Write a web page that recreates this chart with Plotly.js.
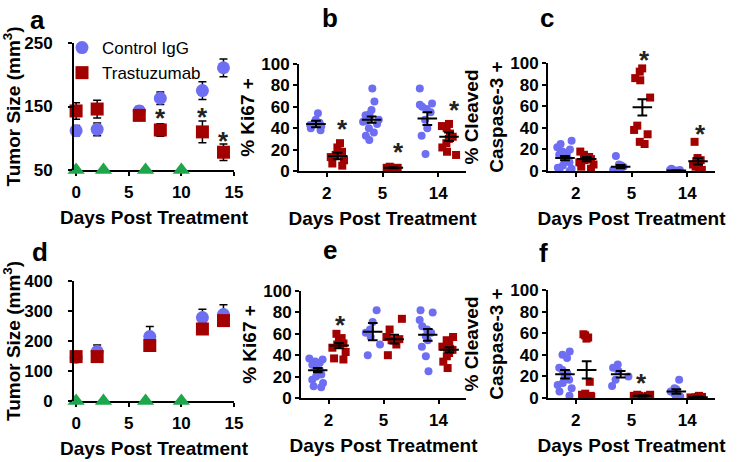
<!DOCTYPE html>
<html>
<head>
<meta charset="utf-8">
<script src="https://cdn.plot.ly/plotly-3.0.1.min.js"></script>
<style>
  html, body { margin: 0; padding: 0; background: white; }
  #chart { width: 737px; height: 462px; }
</style>
</head>
<body>
<div id="chart"></div>
<script>
// ---- data ----
// a: tumour growth, HER2 high
const daysA = [0, 2, 6, 8, 12, 14];
const ctrlA = [112, 114, 143, 163, 175, 211];
const ctrlAErr = [8, 10, 7, 10, 14, 14];
const trasA = [143, 146, 136, 113, 110, 78];
const trasAErr = [13, 14, 6, 10, 17, 13];
const starDaysA = [8, 12, 14];
const starYA = [142, 143, 105];

// d: tumour growth, second model
const daysD = [0, 2, 7, 12, 14];
const ctrlD = [145, 165, 215, 278, 288];
const ctrlDErr = [5, 22, 33, 28, 33];
const trasD = [148, 148, 185, 240, 268];
const trasDErr = [8, 10, 10, 12, 14];

const doseDays = [0, 2.6, 6.6, 10];
const timepoints = ['2', '5', '14'];

// b: % Ki67+ (per timepoint)
const ki67CtrlB = [[54, 48, 45, 44, 42, 40, 38, 43],
                   [77, 65, 57, 53, 50, 48, 46, 44, 40, 36, 33, 29, 52, 47],
                   [77, 63, 60, 58, 55, 48, 40, 33, 16, 62]];
const ki67TrasB = [[26, 22, 18, 15, 13, 10, 7, 5],
                   [2, 3, 3, 2, 4, 3, 2],
                   [44, 42, 40, 35, 32, 30, 26, 22, 18, 15]];
const ki67CtrlBMean = [44, 48, 49], ki67CtrlBSem = [3, 3, 6];
const ki67TrasBMean = [14, 3, 32], ki67TrasBSem = [3, 0.5, 4];
const starCatB = ['2', '5', '14'], starYB = [45, 23, 63];

// c: % cleaved caspase-3+
const casCtrlC = [[28, 25, 22, 20, 18, 15, 12, 10, 8, 5, 3, 1, 0, 2, 14, 17],
                  [14, 6, 4, 3, 2, 1, 5, 0],
                  [1, 0.5, 0, 0, 1, 2, 0.5, 0]];
const casTrasC = [[18, 15, 13, 12, 10, 8, 6, 4, 2, 11],
                  [95, 92, 86, 84, 68, 42, 38, 34, 27, 25],
                  [27, 12, 10, 8, 6, 4, 2, 1, 9]];
const casCtrlCMean = [12, 4, 0.5], casCtrlCSem = [2, 1.5, 0.3];
const casTrasCMean = [11, 59, 9], casTrasCSem = [2, 7.5, 3];
const starCatC = ['5', '14'], starYC = [108, 40];

// e: % Ki67+
const ki67CtrlE = [[37, 36, 34, 33, 30, 26, 25, 22, 17, 14, 11, 10, 20, 31],
                   [82, 71, 64, 57, 50, 40, 61],
                   [82, 80, 73, 67, 64, 61, 54, 48, 39, 25, 58]];
const ki67TrasE = [[60, 56, 54, 51, 50, 47, 43, 37, 36],
                   [74, 64, 57, 54, 50, 40, 55],
                   [57, 54, 51, 48, 47, 45, 42, 39, 34, 28, 46]];
const ki67CtrlEMean = [26, 62, 59], ki67CtrlESem = [2, 8, 5.5];
const ki67TrasEMean = [49, 55, 45], ki67TrasESem = [2.5, 4, 2.5];
const starCatE = ['2'], starYE = [74];

// f: % cleaved caspase-3+
const casCtrlF = [[43, 40, 37, 28, 26, 20, 17, 12, 9, 6, 2, 14, 23],
                  [31, 28, 25, 20, 17, 11],
                  [17, 9, 6, 3, 1.5, 1, 4, 8]];
const casTrasF = [[59, 58, 56, 55, 15, 4, 3, 2, 2, 1],
                  [3, 2, 2, 1, 3, 2],
                  [1, 0.5, 0, 1, 2, 0.5]];
const casCtrlFMean = [22, 22, 6], casCtrlFSem = [4, 3, 2];
const casTrasFMean = [26, 2, 0.8], casTrasFSem = [8, 0.5, 0.3];
const starCatF = ['5'], starYF = [19];

// ---- styling ----
const W = 737, H = 462;
const FONT = 'Liberation Sans, Arial, sans-serif';
const BLUE = '#6e6ef2';
const RED = '#a30000';
const GREEN = '#1ea64c';

// panel boxes in pixels: [left, right, top, bottom]
const boxes = {
    a: [74, 234, 43, 170], b: [299, 466, 64, 171], c: [548, 715, 63, 171],
    d: [74, 234, 281, 401], e: [301, 466, 291, 398], f: [548, 715, 290, 398]
};
const xd = p => [boxes[p][0] / W, boxes[p][1] / W];
const yd = p => [1 - boxes[p][3] / H, 1 - boxes[p][2] / H];

const tickFont = { family: FONT, size: 17, color: 'black', weight: 'bold' };
const titleFont = { family: FONT, size: 19, color: 'black', weight: 'bold' };
const starFont = { family: FONT, size: 26, color: '#222', weight: 'bold' };

function axis(extra) {
    return Object.assign({
        showline: true, linecolor: 'black', linewidth: 2,
        ticks: 'outside', ticklen: 4, tickwidth: 2, tickcolor: 'black',
        showgrid: false, zeroline: false, fixedrange: true,
        tickfont: tickFont
    }, extra);
}

const traces = [];
const annotations = [];

// growth curves
function growthPanel(xa, ya, days, ctrl, ctrlErr, tras, trasErr, base, legend) {
    traces.push({
        x: days, y: ctrl, xaxis: xa, yaxis: ya, type: 'scatter', mode: 'markers',
        name: 'Control IgG', showlegend: legend, cliponaxis: false,
        marker: { color: BLUE, size: 13, symbol: 'circle' },
        error_y: { type: 'data', array: ctrlErr, color: 'black', thickness: 1.5, width: 4 },
        hoverinfo: 'skip'
    });
    traces.push({
        x: days, y: tras, xaxis: xa, yaxis: ya, type: 'scatter', mode: 'markers',
        name: 'Trastuzumab', showlegend: legend, cliponaxis: false,
        marker: { color: RED, size: 13, symbol: 'square' },
        error_y: { type: 'data', array: trasErr, color: 'black', thickness: 1.5, width: 4 },
        hoverinfo: 'skip'
    });
    traces.push({
        x: doseDays, y: doseDays.map(() => base), xaxis: xa, yaxis: ya,
        type: 'scatter', mode: 'markers', showlegend: false, cliponaxis: false,
        marker: { color: GREEN, size: 15, symbol: 'triangle-up' },
        hoverinfo: 'skip'
    });
}

growthPanel('x', 'y', daysA, ctrlA, ctrlAErr, trasA, trasAErr, 50, true);
growthPanel('x4', 'y4', daysD, ctrlD, ctrlDErr, trasD, trasDErr, 0, false);

// dot plots with mean +/- SEM
function dotGroup(xa, ya, groups, color, symbol, mean, sem, og) {
    const xs = [], ys = [];
    groups.forEach((vals, i) => vals.forEach(v => { xs.push(timepoints[i]); ys.push(v); }));
    traces.push({
        type: 'box', x: xs, y: ys, xaxis: xa, yaxis: ya,
        boxpoints: 'all', jitter: 0.9, pointpos: 0,
        fillcolor: 'rgba(0,0,0,0)', line: { color: 'rgba(0,0,0,0)', width: 0 },
        marker: { color: color, size: 8, symbol: symbol },
        offsetgroup: og, alignmentgroup: xa, showlegend: false, hoverinfo: 'skip'
    });
    traces.push({
        type: 'box', x: timepoints, xaxis: xa, yaxis: ya,
        q1: mean, median: mean, q3: mean,
        lowerfence: mean.map((m, i) => m - sem[i]),
        upperfence: mean.map((m, i) => m + sem[i]),
        fillcolor: 'rgba(0,0,0,0)', line: { color: 'black', width: 2 },
        whiskerwidth: 0.5, boxpoints: false,
        offsetgroup: og, alignmentgroup: xa, showlegend: false, hoverinfo: 'skip'
    });
}

function dotPanel(xa, ya, ctrl, ctrlMean, ctrlSem, tras, trasMean, trasSem) {
    dotGroup(xa, ya, ctrl, BLUE, 'circle', ctrlMean, ctrlSem, 'ctrl');
    dotGroup(xa, ya, tras, RED, 'square', trasMean, trasSem, 'tras');
}

dotPanel('x2', 'y2', ki67CtrlB, ki67CtrlBMean, ki67CtrlBSem, ki67TrasB, ki67TrasBMean, ki67TrasBSem);
dotPanel('x3', 'y3', casCtrlC, casCtrlCMean, casCtrlCSem, casTrasC, casTrasCMean, casTrasCSem);
dotPanel('x5', 'y5', ki67CtrlE, ki67CtrlEMean, ki67CtrlESem, ki67TrasE, ki67TrasEMean, ki67TrasESem);
dotPanel('x6', 'y6', casCtrlF, casCtrlFMean, casCtrlFSem, casTrasF, casTrasFMean, casTrasFSem);

// asterisks; category axes take the category index, and a star above the
// axis top is pinned to the top and lifted by the missing distance
function stars(panel, xa, ya, yRange, xs, ys, shift) {
    const pxPerUnit = (boxes[panel][3] - boxes[panel][2]) / (yRange[1] - yRange[0]);
    xs.forEach((x, i) => {
        const over = Math.max(0, ys[i] - yRange[1]);
        annotations.push({
            x: typeof x === 'string' ? timepoints.indexOf(x) : x, y: ys[i] - over,
            xref: xa, yref: ya, text: '*', showarrow: false,
            xanchor: 'center', yanchor: 'middle', xshift: shift, yshift: -6 + over * pxPerUnit,
            font: starFont
        });
    });
}
const pctRange = [0, 100];
stars('a', 'x', 'y', [50, 250], starDaysA, starYA, 0);
stars('b', 'x2', 'y2', pctRange, starCatB, starYB, 16);
stars('c', 'x3', 'y3', pctRange, starCatC, starYC, 13);
stars('e', 'x5', 'y5', pctRange, starCatE, starYE, 12);
stars('f', 'x6', 'y6', pctRange, starCatF, starYF, 10);

// panel letters
[['a', 37, 20], ['b', 330, 18], ['c', 547, 18], ['d', 40, 252], ['e', 330, 250], ['f', 543, 253]]
    .forEach(([t, px, py]) => annotations.push({
        x: px / W, y: 1 - py / H, xref: 'paper', yref: 'paper', text: t, showarrow: false,
        xanchor: 'center', yanchor: 'middle',
        font: { family: FONT, size: 26, color: 'black', weight: 'bold' }
    }));

const daysTitle = { text: 'Days Post Treatment', font: titleFont, standoff: 9 };
const catX = { type: 'category', range: [-0.5, 2.5], ticklen: 4, ticklabelstandoff: 2, title: daysTitle };
const timeX = { range: [-0.2, 15], tickvals: [0, 5, 10, 15], ticklabelstandoff: 2,
    layer: 'below traces', title: daysTitle };

function yTitle(text) { return { text: text, font: titleFont, standoff: 2 }; }

const layout = {
    width: W, height: H,
    margin: { l: 0, r: 0, t: 0, b: 0 },
    paper_bgcolor: 'white', plot_bgcolor: 'white',
    font: { family: FONT, color: 'black' },
    boxmode: 'group', boxgap: 0.22, boxgroupgap: 0.1,
    showlegend: true,
    legend: {
        x: 62 / W, y: 1 - 30 / H, xanchor: 'left', yanchor: 'top',
        bgcolor: 'rgba(0,0,0,0)', font: { family: FONT, size: 17, color: 'black' },
        tracegroupgap: 0
    },
    xaxis: axis(Object.assign({ domain: xd('a'), anchor: 'y' }, timeX)),
    yaxis: axis({ domain: yd('a'), anchor: 'x', range: [50, 250], tickvals: [50, 150, 250],
        ticklabelstandoff: 12, title: yTitle('Tumor Size (mm<sup>3</sup>)') }),
    xaxis2: axis(Object.assign({ domain: xd('b'), anchor: 'y2' }, catX)),
    yaxis2: axis({ domain: yd('b'), anchor: 'x2', range: pctRange, dtick: 20,
        title: yTitle('% Ki67 +') }),
    xaxis3: axis(Object.assign({ domain: xd('c'), anchor: 'y3' }, catX)),
    yaxis3: axis({ domain: yd('c'), anchor: 'x3', range: pctRange, dtick: 20,
        title: yTitle('% Cleaved<br>Caspase-3 +') }),
    xaxis4: axis(Object.assign({ domain: xd('d'), anchor: 'y4' }, timeX)),
    yaxis4: axis({ domain: yd('d'), anchor: 'x4', range: [0, 400], dtick: 100,
        ticklabelstandoff: 12, title: yTitle('Tumor Size (mm<sup>3</sup>)') }),
    xaxis5: axis(Object.assign({ domain: xd('e'), anchor: 'y5' }, catX)),
    yaxis5: axis({ domain: yd('e'), anchor: 'x5', range: pctRange, dtick: 20,
        title: yTitle('% Ki67 +') }),
    xaxis6: axis(Object.assign({ domain: xd('f'), anchor: 'y6' }, catX)),
    yaxis6: axis({ domain: yd('f'), anchor: 'x6', range: pctRange, dtick: 20,
        title: yTitle('% Cleaved<br>Caspase-3 +') }),
    annotations: annotations
};

Plotly.newPlot('chart', traces, layout, { displayModeBar: false, staticPlot: true });
</script>
</body>
</html>
